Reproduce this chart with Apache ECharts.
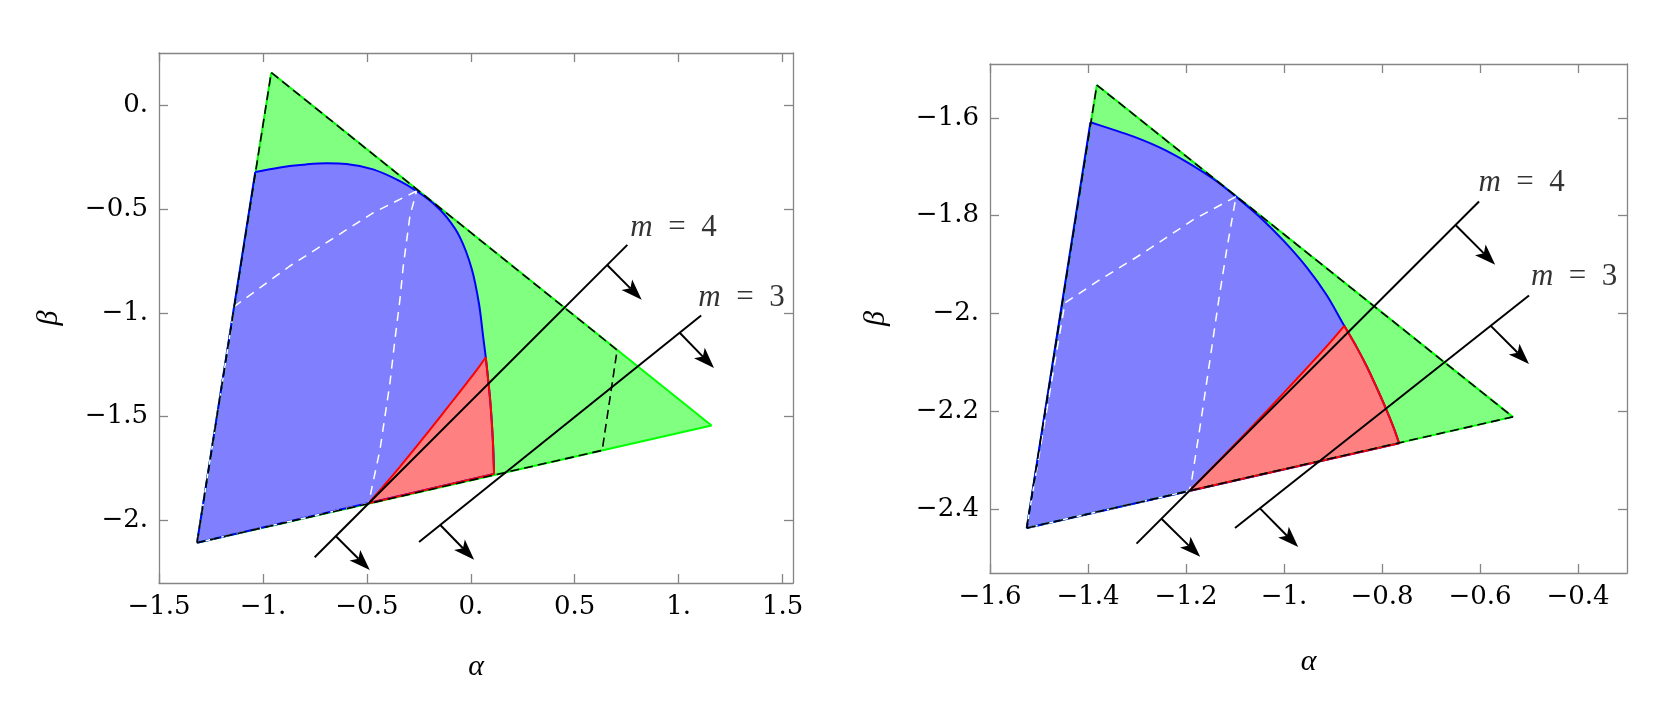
<!DOCTYPE html>
<html>
<head>
<meta charset="utf-8">
<script src="https://cdn.jsdelivr.net/npm/echarts@6/dist/echarts.min.js"></script>
<style>
    html, body { margin: 0; padding: 0; background: #fff; }
    #chart { width: 1661px; height: 709px; }
</style>
</head>
<body>
<div id="chart"></div>
<script>
    // ---------- left panel ----------
    const leftXTicks = [-1.5, -1, -0.5, 0, 0.5, 1, 1.5];
    const leftXLabels = ['−1.5', '−1.', '−0.5', '0.', '0.5', '1.', '1.5'];
    const leftYTicks = [-2, -1.5, -1, -0.5, 0];
    const leftYLabels = ['−2.', '−1.5', '−1.', '−0.5', '0.'];

    const leftTriangle = [[-0.960, 0.156], [1.158, -1.542], [-1.317, -2.106]];
    const leftBlueArc = [
        [-1.037, -0.323], [-0.952, -0.307], [-0.872, -0.294], [-0.791, -0.286], [-0.695, -0.281],
        [-0.598, -0.284], [-0.470, -0.310], [-0.341, -0.366], [-0.261, -0.414], [-0.180, -0.474],
        [-0.116, -0.540], [-0.052, -0.637], [0.005, -0.790], [0.040, -0.960], [0.060, -1.120],
        [0.072, -1.214], [0.093, -1.418], [0.106, -1.611], [0.112, -1.775]
    ];
    const leftRedEdge = [
        [-0.491, -1.916], [-0.421, -1.835], [-0.341, -1.741], [-0.261, -1.643], [-0.180, -1.542],
        [-0.100, -1.440], [-0.019, -1.337], [0.029, -1.275], [0.072, -1.214]
    ];
    const leftWhiteA = [[-0.261, -0.414], [-0.470, -0.519], [-0.872, -0.776], [-1.137, -0.969]];
    const leftWhiteB = [
        [-0.491, -1.916], [-0.478, -1.852], [-0.437, -1.659], [-0.389, -1.338], [-0.365, -1.129],
        [-0.341, -0.937], [-0.325, -0.776], [-0.293, -0.535], [-0.261, -0.414]
    ];
    const leftDashCut = [[0.704, -1.179], [0.632, -1.662]];
    const leftM4 = [[-0.751, -2.176], [0.753, -0.673]];
    const leftM3 = [[-0.249, -2.103], [1.108, -1.013]];
    const leftArrows = [
        [-0.650, -2.074, -0.486, -2.238],
        [-0.148, -2.020, 0.016, -2.188],
        [0.656, -0.770, 0.822, -0.937],
        [1.005, -1.096, 1.170, -1.266]
    ];
    const leftMText = [[0.975, -0.592, 4], [1.302, -0.927, 3]];

    // ---------- right panel ----------
    const rightXTicks = [-1.6, -1.4, -1.2, -1, -0.8, -0.6, -0.4];
    const rightXLabels = ['−1.6', '−1.4', '−1.2', '−1.', '−0.8', '−0.6', '−0.4'];
    const rightYTicks = [-2.4, -2.2, -2, -1.8, -1.6];
    const rightYLabels = ['−2.4', '−2.2', '−2.', '−1.8', '−1.6'];

    const rightTriangle = [[-1.382, -1.533], [-0.533, -2.211], [-1.525, -2.438]];
    const rightBlueArc = [
        [-1.395, -1.609], [-1.355, -1.622], [-1.308, -1.638], [-1.253, -1.661], [-1.199, -1.690],
        [-1.144, -1.725], [-1.098, -1.761], [-1.049, -1.803], [-1.001, -1.851], [-0.954, -1.905],
        [-0.913, -1.962], [-0.877, -2.025], [-0.852, -2.068], [-0.831, -2.108], [-0.811, -2.151],
        [-0.792, -2.194], [-0.777, -2.231], [-0.765, -2.265]
    ];
    const rightRedEdge = [
        [-1.193, -2.362], [-1.103, -2.270], [-1.035, -2.199], [-0.967, -2.126], [-0.913, -2.067],
        [-0.877, -2.025]
    ];
    const rightWhiteA = [[-1.098, -1.761], [-1.185, -1.808], [-1.287, -1.876], [-1.376, -1.931], [-1.447, -1.978]];
    const rightWhiteB = [
        [-1.193, -2.362], [-1.188, -2.338], [-1.169, -2.216], [-1.151, -2.094], [-1.133, -1.971],
        [-1.117, -1.870], [-1.098, -1.761]
    ];
    const rightM4 = [[-1.301, -2.470], [-0.602, -1.771]];
    const rightM3 = [[-1.100, -2.438], [-0.500, -1.963]];
    const rightArrows = [
        [-1.250, -2.419, -1.171, -2.497],
        [-1.049, -2.398, -0.971, -2.477],
        [-0.650, -1.819, -0.569, -1.900],
        [-0.578, -2.025, -0.500, -2.103]
    ];
    const rightMText = [[-0.515, -1.732, 4], [-0.408, -1.925, 3]];

    const serif = 'Liberation Serif';
    const tickFont = 'DejaVu Serif';
    const frameColor = '#858585';

    function tickText(vals, texts) {
        return v => {
            const i = vals.findIndex(t => Math.abs(t - v) < 1e-6);
            return i < 0 ? '' : texts[i];
        };
    }

    function frameAxis(grid, position, min, max, ticks, texts, opts) {
        const isMain = !!opts;
        return Object.assign({
            type: 'value',
            gridIndex: grid,
            position: position,
            min: min,
            max: max,
            axisLine: { show: true, onZero: false, lineStyle: { color: frameColor, width: 1.3 } },
            axisTick: { show: true, inside: true, length: 9, customValues: ticks, lineStyle: { color: frameColor, width: 1.3 } },
            axisLabel: {
                show: isMain,
                customValues: ticks,
                formatter: tickText(ticks, texts),
                color: '#000',
                fontFamily: tickFont,
                fontSize: 26,
                margin: 11
            },
            splitLine: { show: false }
        }, opts || {});
    }

    function axisName(gap) {
        return {
            nameLocation: 'middle',
            nameGap: gap,
            nameTextStyle: { fontFamily: serif, fontStyle: 'italic', fontSize: 30, color: '#000' }
        };
    }

    function poly(gi, pts, fill) {
        return {
            type: 'custom', xAxisIndex: gi * 2, yAxisIndex: gi * 2, silent: true,
            data: [pts[0]],
            renderItem: (params, api) => ({
                type: 'polygon',
                shape: { points: pts.map(q => api.coord(q)) },
                style: { fill: fill }
            })
        };
    }

    function path(gi, pts, color, width, dash, smooth) {
        return {
            type: 'line', xAxisIndex: gi * 2, yAxisIndex: gi * 2, silent: true,
            data: pts, showSymbol: false, symbol: 'none', smooth: smooth || false,
            lineStyle: { color: color, width: width, type: dash || 'solid' }
        };
    }

    function arrows(gi, list) {
        return {
            type: 'custom', xAxisIndex: gi * 2, yAxisIndex: gi * 2, silent: true,
            data: list,
            renderItem: (params, api) => {
                const a = api.coord([api.value(0), api.value(1)]);
                const b = api.coord([api.value(2), api.value(3)]);
                const dx = b[0] - a[0], dy = b[1] - a[1];
                const len = Math.sqrt(dx * dx + dy * dy);
                const ux = dx / len, uy = dy / len;
                const nx = -uy, ny = ux;
                const L = 21, W = 7.5;
                const bx = b[0] - ux * L, by = b[1] - uy * L;
                const kx = b[0] - ux * (L - 5), ky = b[1] - uy * (L - 5);
                return {
                    type: 'group',
                    children: [
                        { type: 'line', shape: { x1: a[0], y1: a[1], x2: kx, y2: ky }, style: { stroke: '#000', lineWidth: 2 } },
                        { type: 'polygon', shape: { points: [b, [bx + nx * W, by + ny * W], [kx, ky], [bx - nx * W, by - ny * W]] }, style: { fill: '#000' } }
                    ]
                };
            }
        };
    }

    function mLabels(gi, list) {
        return {
            type: 'scatter', xAxisIndex: gi * 2, yAxisIndex: gi * 2, silent: true,
            symbolSize: 1, itemStyle: { color: 'rgba(0,0,0,0)' },
            data: list,
            label: {
                show: true, position: 'inside',
                formatter: p => '{i|m}{n|\u2002=\u2002' + p.value[2] + '}',
                rich: {
                    i: { fontFamily: serif, fontStyle: 'italic', fontSize: 31, color: '#000' },
                    n: { fontFamily: serif, fontSize: 31, color: '#000' }
                }
            }
        };
    }

    function panel(gi, tri, arc, redEdge, whiteA, whiteB, blackDash, m4, m3, arr, txt) {
        const bl = tri[2];
        const blue = [bl].concat(arc);
        const rTop = redEdge[redEdge.length - 1];
        const topIdx = arc.findIndex(p => p[0] === rTop[0] && p[1] === rTop[1]);
        const red = redEdge.concat(arc.slice(topIdx + 1));
        const rBottom = arc[arc.length - 1];
        const white = whiteA.concat([bl], whiteB);
        return [
            poly(gi, tri, '#80ff80'),
            poly(gi, blue, '#8080ff'),
            poly(gi, red, '#ff8080'),
            path(gi, tri.concat([tri[0]]), '#00ff00', 2),
            path(gi, [rBottom, bl, arc[0]], '#0000ff', 2),
            path(gi, arc, '#0000ff', 2, null, 0.3),
            path(gi, redEdge, '#ff0000', 2, null, 0.3),
            path(gi, arc.slice(topIdx), '#ff0000', 2, null, 0.3),
            path(gi, [rBottom, redEdge[0]], '#ff0000', 2),
            path(gi, white, '#ffffff', 1.5, [9, 7]),
            path(gi, blackDash, '#000000', 1.6, [9, 5]),
            path(gi, m4, '#000000', 2),
            path(gi, m3, '#000000', 2),
            arrows(gi, arr),
            mLabels(gi, txt)
        ];
    }

    const leftDash = [leftTriangle[2], leftTriangle[0], leftDashCut[0], leftDashCut[1], leftTriangle[2]];
    const rightDash = [rightTriangle[2], rightTriangle[0], rightTriangle[1], rightTriangle[2]];

    const chart = echarts.init(document.getElementById('chart'), null, { renderer: 'canvas' });
    chart.setOption({
        animation: false,
        backgroundColor: '#fff',
        grid: [
            { left: 159, top: 53, width: 634, height: 530 },
            { left: 990, top: 64, width: 637, height: 509 }
        ],
        xAxis: [
            frameAxis(0, 'bottom', -1.5, 1.55, leftXTicks, leftXLabels, Object.assign({ name: 'α' }, axisName(69))),
            frameAxis(0, 'top', -1.5, 1.55, leftXTicks, leftXLabels),
            frameAxis(1, 'bottom', -1.6, -0.3, rightXTicks, rightXLabels, Object.assign({ name: 'α' }, axisName(74))),
            frameAxis(1, 'top', -1.6, -0.3, rightXTicks, rightXLabels)
        ],
        yAxis: [
            frameAxis(0, 'left', -2.3, 0.25, leftYTicks, leftYLabels, Object.assign({ name: 'β' }, axisName(95))),
            frameAxis(0, 'right', -2.3, 0.25, leftYTicks, leftYLabels),
            frameAxis(1, 'left', -2.53, -1.49, rightYTicks, rightYLabels, Object.assign({ name: 'β' }, axisName(99))),
            frameAxis(1, 'right', -2.53, -1.49, rightYTicks, rightYLabels)
        ],
        series: panel(0, leftTriangle, leftBlueArc, leftRedEdge, leftWhiteA, leftWhiteB, leftDash,
                      leftM4, leftM3, leftArrows, leftMText)
            .concat(panel(1, rightTriangle, rightBlueArc, rightRedEdge, rightWhiteA, rightWhiteB, rightDash,
                          rightM4, rightM3, rightArrows, rightMText))
    });
</script>
</body>
</html>
